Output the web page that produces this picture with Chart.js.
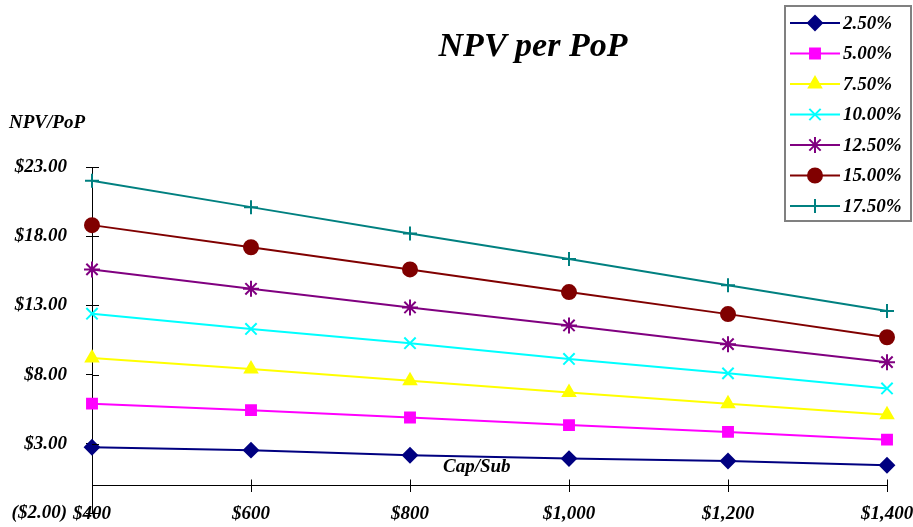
<!DOCTYPE html>
<html>
<head>
<meta charset="utf-8">
<title>NPV per PoP</title>
<script src="https://cdn.jsdelivr.net/npm/chart.js@4.4.1/dist/chart.umd.min.js"></script>
<style>
  html, body { margin: 0; padding: 0; background: #fff; }
  #wrap { width: 913px; height: 527px; position: relative; }
</style>
</head>
<body>
<div id="wrap"><canvas id="npvChart"></canvas></div>
<script>
// chart data
const capSub = ["$400", "$600", "$800", "$1,000", "$1,200", "$1,400"];
const seriesNames = ["2.50%", "5.00%", "7.50%", "10.00%", "12.50%", "15.00%", "17.50%"];
const npv2_5 = [2.75, 2.54, 2.17, 1.93, 1.76, 1.45];
const npv5_0 = [5.9, 5.43, 4.9, 4.35, 3.86, 3.3];
const npv7_5 = [9.2, 8.4, 7.56, 6.7, 5.9, 5.1];
const npv10_0 = [12.4, 11.3, 10.27, 9.13, 8.09, 7.0];
const npv12_5 = [15.6, 14.2, 12.85, 11.55, 10.2, 8.9];
const npv15_0 = [18.8, 17.2, 15.6, 13.96, 12.37, 10.7];
const npv17_5 = [22.0, 20.1, 18.2, 16.35, 14.45, 12.6];
const yMin = -2;
const yMax = 23;
const yStep = 5;

const FONT = "'Liberation Serif', 'Times New Roman', serif";
Chart.defaults.font.family = FONT;
Chart.defaults.font.size = 19;
Chart.defaults.font.style = "italic";
Chart.defaults.font.weight = "bold";
Chart.defaults.color = "#000";

const looks = [
  { color: "#000080", style: "rectRot", radius: 7 },
  { color: "#FF00FF", style: "rect", radius: 7 },
  { color: "#FFFF00", style: "triangle", radius: 7 },
  { color: "#00FFFF", style: "crossRot", radius: 8 },
  { color: "#800080", style: "star", radius: 8 },
  { color: "#800000", style: "circle", radius: 7 },
  { color: "#008080", style: "cross", radius: 7 },
];
const allSeries = [npv2_5, npv5_0, npv7_5, npv10_0, npv12_5, npv15_0, npv17_5];

const datasets = allSeries.map((vals, i) => ({
  label: seriesNames[i],
  data: vals,
  borderColor: looks[i].color,
  backgroundColor: looks[i].color,
  borderWidth: 2,
  pointStyle: looks[i].style,
  pointRadius: looks[i].radius,
  pointBorderWidth: 2,
  pointBorderColor: looks[i].color,
  pointBackgroundColor: looks[i].color,
  tension: 0,
}));

// no extra room for overhanging labels, the layout padding decides
function noLabelPadding(scale) {
  scale.paddingLeft = 0;
  scale.paddingRight = 0;
  scale.paddingTop = 0;
  scale.paddingBottom = 0;
}

// title, axis captions and the boxed legend
const decorations = {
  id: "decorations",
  afterDraw(chart) {
    const ctx = chart.ctx;
    const area = chart.chartArea;
    const xs = chart.scales.x;
    const ys = chart.scales.y;
    ctx.save();

    // inner half of the cross tick marks
    ctx.strokeStyle = "#000";
    ctx.lineWidth = 1;
    ys.ticks.forEach((t) => {
      const py = Math.round(ys.getPixelForValue(t.value)) + 0.5;
      ctx.beginPath();
      ctx.moveTo(area.left, py);
      ctx.lineTo(area.left + 7, py);
      ctx.stroke();
    });
    const y0 = Math.round(ys.getPixelForValue(0)) + 0.5;
    xs.ticks.forEach((t, i) => {
      const px = Math.round(xs.getPixelForValue(i)) + 0.5;
      ctx.beginPath();
      ctx.moveTo(px, y0 - 6);
      ctx.lineTo(px, y0);
      ctx.stroke();
    });

    ctx.fillStyle = "#000";
    ctx.font = "italic bold 34px " + FONT;
    ctx.textAlign = "center";
    ctx.textBaseline = "alphabetic";
    ctx.fillText("NPV per PoP", 533, 56);

    ctx.font = "italic bold 19px " + FONT;
    ctx.textAlign = "left";
    ctx.textBaseline = "middle";
    ctx.fillText("NPV/PoP", 9, 123);
    ctx.fillText("Cap/Sub", 443, 467);

    // legend box
    ctx.strokeStyle = "#808080";
    ctx.lineWidth = 2;
    ctx.strokeRect(785, 6, 126, 215);
    chart.data.datasets.forEach((ds, i) => {
      const ly = 23 + i * 30.5;
      ctx.strokeStyle = ds.borderColor;
      ctx.fillStyle = ds.borderColor;
      ctx.lineWidth = 2;
      ctx.beginPath();
      ctx.moveTo(790, ly);
      ctx.lineTo(840, ly);
      ctx.stroke();
      Chart.helpers.drawPoint(ctx, {
        pointStyle: ds.pointStyle,
        radius: ds.pointRadius,
        borderWidth: 2,
        rotation: 0,
      }, 815, ly);
      ctx.fillStyle = "#000";
      ctx.fillText(ds.label, 843, ly + 1);
    });
    ctx.restore();
  },
};

new Chart(document.getElementById("npvChart"), {
  type: "line",
  data: { labels: capSub, datasets: datasets },
  options: {
    responsive: true,
    maintainAspectRatio: false,
    animation: false,
    layout: { padding: { top: 167, right: 26, bottom: 14, left: 0 } },
    plugins: {
      legend: { display: false },
      title: { display: false },
      tooltip: { enabled: false },
    },
    scales: {
      x: {
        type: "category",
        offset: false,
        position: { y: 0 },
        afterFit: noLabelPadding,
        border: { display: true, color: "#000", width: 1 },
        grid: { drawOnChartArea: false, drawTicks: true, tickLength: 6, color: "#000" },
        ticks: { padding: 11, maxRotation: 0, autoSkip: false },
      },
      y: {
        min: yMin,
        max: yMax,
        afterFit(scale) {
          noLabelPadding(scale);
          scale.width = 92;
        },
        border: { display: true, color: "#000", width: 1 },
        grid: { drawOnChartArea: false, drawTicks: true, tickLength: 6, color: "#000" },
        ticks: {
          stepSize: yStep,
          padding: 19,
          callback: (v) => (v < 0 ? "($" + Math.abs(v).toFixed(2) + ")" : "$" + v.toFixed(2)),
        },
      },
    },
  },
  plugins: [decorations],
});
</script>
</body>
</html>
